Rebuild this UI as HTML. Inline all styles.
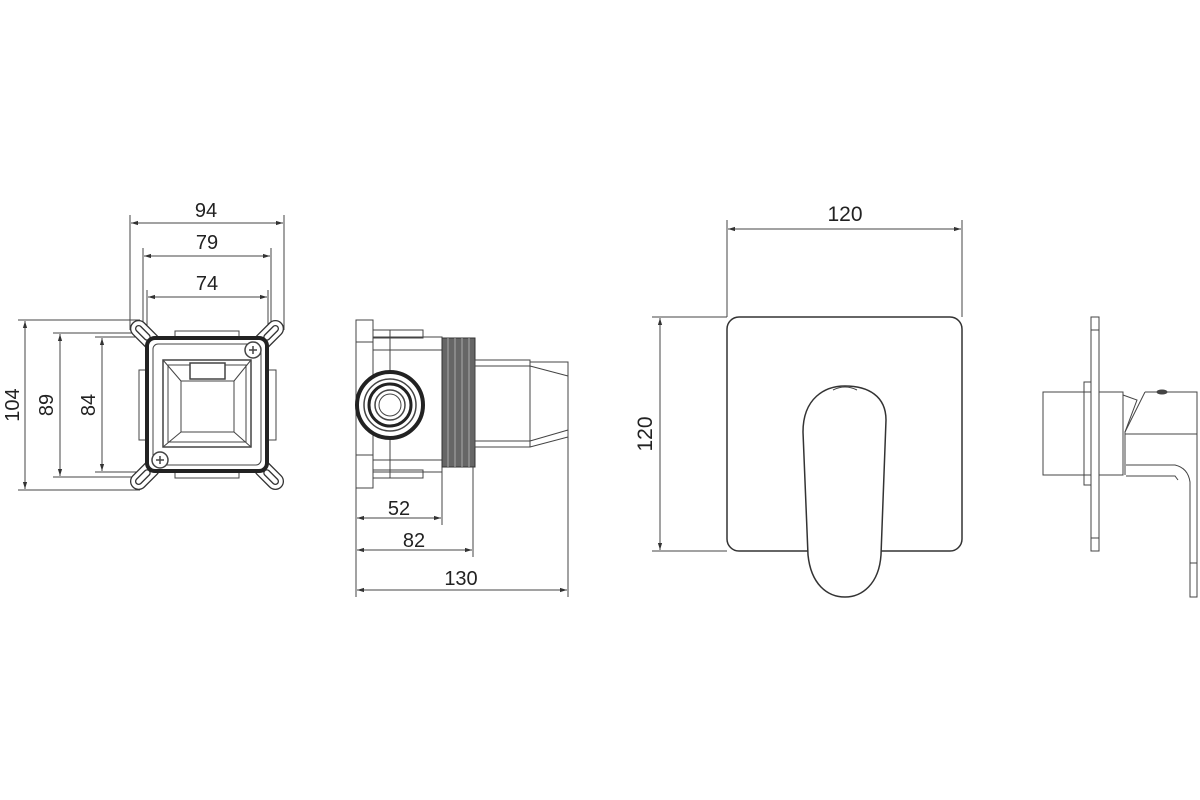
<!DOCTYPE html>
<html><head><meta charset="utf-8"><style>
html,body{margin:0;padding:0;background:#fff}
svg{display:block}
text{font-family:"Liberation Sans",sans-serif;font-size:20px;fill:#222}
</style></head><body>
<svg width="1200" height="800" viewBox="0 0 1200 800" xmlns="http://www.w3.org/2000/svg">
<defs>
<marker id="a" viewBox="0 0 10 10" refX="10" refY="5" markerWidth="7" markerHeight="7" orient="auto-start-reverse"><path d="M0,2 L10,5 L0,8 z" fill="#333"/></marker>
</defs>
<g stroke="#444" stroke-width="1" fill="none">
<line x1="130" y1="215" x2="130" y2="330"/><line x1="284" y1="215" x2="284" y2="330"/>
<line x1="143" y1="248" x2="143" y2="340"/><line x1="271" y1="248" x2="271" y2="340"/>
<line x1="147" y1="290" x2="147" y2="340"/><line x1="268" y1="290" x2="268" y2="340"/>
<line x1="131" y1="223" x2="283" y2="223" marker-start="url(#a)" marker-end="url(#a)"/>
<line x1="144" y1="256" x2="270" y2="256" marker-start="url(#a)" marker-end="url(#a)"/>
<line x1="148" y1="297" x2="267" y2="297" marker-start="url(#a)" marker-end="url(#a)"/>
<line x1="18" y1="320" x2="140" y2="320"/><line x1="18" y1="490" x2="140" y2="490"/>
<line x1="53" y1="333" x2="140" y2="333"/><line x1="53" y1="477" x2="140" y2="477"/>
<line x1="95" y1="337" x2="146" y2="337"/><line x1="95" y1="472" x2="146" y2="472"/>
<line x1="25" y1="321" x2="25" y2="489" marker-start="url(#a)" marker-end="url(#a)"/>
<line x1="60" y1="334" x2="60" y2="476" marker-start="url(#a)" marker-end="url(#a)"/>
<line x1="102" y1="338" x2="102" y2="471" marker-start="url(#a)" marker-end="url(#a)"/>
<g stroke="#333" stroke-width="1.3">
<g transform="rotate(-45 145 335)"><rect x="137" y="318" width="16" height="34" rx="8" fill="#fff"/><rect x="142" y="323" width="6" height="18" rx="3"/></g>
<g transform="rotate(45 269 335)"><rect x="261" y="318" width="16" height="34" rx="8" fill="#fff"/><rect x="266" y="323" width="6" height="18" rx="3"/></g>
<g transform="rotate(45 145 475)"><rect x="137" y="458" width="16" height="34" rx="8" fill="#fff"/><rect x="142" y="469" width="6" height="18" rx="3"/></g>
<g transform="rotate(-45 269 475)"><rect x="261" y="458" width="16" height="34" rx="8" fill="#fff"/><rect x="266" y="469" width="6" height="18" rx="3"/></g>
</g>
<rect x="175" y="331" width="64" height="7"/><rect x="175" y="471" width="64" height="7"/>
<rect x="139" y="370" width="8" height="70"/><rect x="268" y="370" width="8" height="70"/>
<rect x="147" y="338" width="120" height="133" rx="8" stroke="#222" stroke-width="4" fill="#fff"/>
<rect x="153" y="344" width="108" height="121" rx="5"/>
<rect x="163" y="360" width="88" height="87" stroke-width="1.5"/>
<rect x="168" y="365" width="78" height="77"/>
<rect x="181" y="381" width="53" height="51"/>
<line x1="163" y1="360" x2="181" y2="381"/><line x1="251" y1="360" x2="234" y2="381"/>
<line x1="163" y1="447" x2="181" y2="432"/><line x1="251" y1="447" x2="234" y2="432"/>
<rect x="190" y="363" width="35" height="16" stroke-width="1.5" fill="#fff"/>
<circle cx="253" cy="350" r="8" stroke-width="1.5" fill="#fff"/><path d="M249,350h8M253,346v8" stroke-width="1.5"/>
<circle cx="160" cy="460" r="8" stroke-width="1.5" fill="#fff"/><path d="M156,460h8M160,456v8" stroke-width="1.5"/>

<rect x="356" y="320" width="17" height="168"/>
<line x1="356" y1="342" x2="373" y2="342"/><line x1="356" y1="455" x2="373" y2="455"/>
<rect x="373" y="330" width="50" height="8"/><rect x="373" y="470" width="50" height="8"/>
<rect x="373" y="337" width="69" height="135"/>
<line x1="373" y1="350" x2="442" y2="350"/><line x1="373" y1="460" x2="442" y2="460"/>
<rect x="442" y="338" width="33" height="129" fill="#666" stroke="#333"/>
<g stroke="#aaa"><line x1="448" y1="338" x2="448" y2="467"/><line x1="455" y1="338" x2="455" y2="467"/><line x1="462" y1="338" x2="462" y2="467"/><line x1="469" y1="338" x2="469" y2="467"/></g>
<rect x="475" y="360" width="55" height="87"/><line x1="475" y1="366" x2="530" y2="366"/><line x1="475" y1="441" x2="530" y2="441"/>
<path d="M530,362 L568,362 L568,437 L530,447"/><path d="M530,366 L568,376 M530,441 L568,430"/>
<line x1="390" y1="330" x2="390" y2="478"/>
<circle cx="390" cy="405" r="33" stroke="#222" stroke-width="4" fill="#fff"/>
<circle cx="390" cy="405" r="26" stroke-width="1.5"/>
<circle cx="390" cy="405" r="21" stroke="#222" stroke-width="3"/>
<circle cx="390" cy="405" r="15" stroke-width="1.5"/>
<circle cx="390" cy="405" r="11"/>
<line x1="442" y1="472" x2="442" y2="525"/><line x1="473" y1="467" x2="473" y2="557"/>
<line x1="568" y1="437" x2="568" y2="597"/><line x1="356" y1="488" x2="356" y2="597"/>
<line x1="357" y1="518" x2="441" y2="518" marker-start="url(#a)" marker-end="url(#a)"/>
<line x1="357" y1="550" x2="472" y2="550" marker-start="url(#a)" marker-end="url(#a)"/>
<line x1="357" y1="590" x2="567" y2="590" marker-start="url(#a)" marker-end="url(#a)"/>

<line x1="727" y1="220" x2="727" y2="317"/><line x1="962" y1="220" x2="962" y2="317"/>
<line x1="728" y1="229" x2="961" y2="229" marker-start="url(#a)" marker-end="url(#a)"/>
<line x1="652" y1="317" x2="727" y2="317"/><line x1="652" y1="551" x2="727" y2="551"/>
<line x1="660" y1="318" x2="660" y2="550" marker-start="url(#a)" marker-end="url(#a)"/>
<rect x="727" y="317" width="235" height="234" rx="12" stroke="#333" stroke-width="1.5"/>
<path d="M803,432 C803,398 825,386 845,386 C868,386 886,396 886,420 L881,555 C879,584 862,597 845,597 C827,597 811,584 808,555 Z" fill="#fff" stroke="#333" stroke-width="1.5"/>
<path d="M833,390 Q845,384 857,390"/>

<rect x="1091" y="317" width="8" height="234"/><line x1="1091" y1="538" x2="1099" y2="538"/><line x1="1091" y1="330" x2="1099" y2="330"/>
<rect x="1043" y="392" width="48" height="83"/><rect x="1099" y="392" width="24" height="83"/>
<rect x="1084" y="382" width="7" height="103"/>
<path d="M1123,395 L1137,400 L1125,432 L1125,475"/>
<path d="M1145,392 L1197,392 L1197,475 M1145,392 L1125,432 M1125,434 L1197,434"/>
<path d="M1126,465 L1175,465 Q1188,468 1190,482 L1190,597 L1197,597 L1197,475 M1126,476 L1175,476 L1178,480"/>
<line x1="1190" y1="563" x2="1197" y2="563"/>
<ellipse cx="1162" cy="392" rx="5" ry="2" fill="#444"/>
</g>
<g>
<text x="206" y="217" text-anchor="middle">94</text>
<text x="207" y="249" text-anchor="middle">79</text>
<text x="207" y="290" text-anchor="middle">74</text>
<text transform="translate(19,405) rotate(-90)" text-anchor="middle">104</text>
<text transform="translate(53,405) rotate(-90)" text-anchor="middle">89</text>
<text transform="translate(95,405) rotate(-90)" text-anchor="middle">84</text>
<text x="399" y="515" text-anchor="middle">52</text>
<text x="414" y="547" text-anchor="middle">82</text>
<text x="461" y="585" text-anchor="middle">130</text>
<text x="845" y="221" text-anchor="middle" style="font-size:21px">120</text>
<text transform="translate(652,434) rotate(-90)" text-anchor="middle" style="font-size:21px">120</text>
</g>
</svg>
</body></html>
